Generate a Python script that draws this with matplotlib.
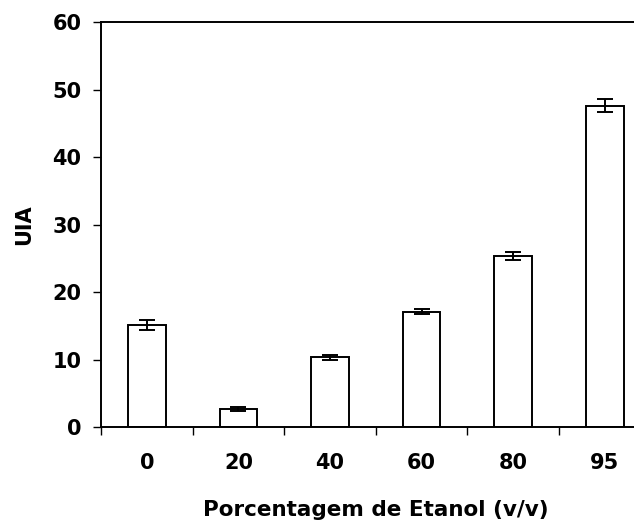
import numpy as np
import matplotlib.pyplot as plt

categorias = ['0', '20', '40', '60', '80', '95']
uia = [15.1, 2.6, 10.3, 17.1, 25.4, 47.6]
erro = [0.7, 0.3, 0.3, 0.4, 0.6, 0.95]

plt.rcParams['font.family'] = ['DejaVu Sans']
plt.rcParams['font.weight'] = 'bold'

fig = plt.figure(figsize=(6.34, 5.27), dpi=100)
ax = fig.add_axes([0.1593, 0.1898, 0.867, 0.768])

x = np.arange(len(categorias)) + 0.5
ax.bar(x, uia, width=0.41, color='white', edgecolor='black', linewidth=1.4)
ax.errorbar(x, uia, yerr=erro, fmt='none', ecolor='black', elinewidth=1.4,
            capsize=5.5, capthick=1.4)

ax.set_xlim(0, len(categorias))
ax.set_ylim(0, 60)
ax.set_yticks(np.arange(0, 61, 10))

# tick marks sit between the bars, labels sit under them
ax.set_xticks(np.arange(0, len(categorias) + 1))
ax.set_xticklabels([])
ax.set_xticks(x, minor=True)
ax.set_xticklabels(categorias, minor=True)
ax.tick_params(axis='x', which='major', direction='out', length=6, width=1)
ax.tick_params(axis='x', which='minor', length=0, pad=19, labelsize=15)
ax.tick_params(axis='y', direction='out', length=6, width=1, pad=8, labelsize=15)

for s in ['left', 'top', 'bottom']:
    ax.spines[s].set_linewidth(1.4)
ax.spines['right'].set_visible(False)

ax.set_xlabel('Porcentagem de Etanol (v/v)', fontsize=15.5, fontweight='bold', labelpad=19)
ax.set_ylabel('UIA', fontsize=15, fontweight='bold', labelpad=13)

fig.savefig('out.png', dpi=100)
